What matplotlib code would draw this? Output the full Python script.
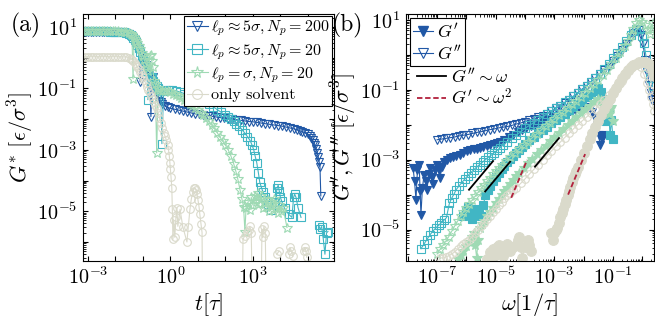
import numpy as np
import matplotlib
matplotlib.use('Agg')
import matplotlib.pyplot as plt
from matplotlib.lines import Line2D
from matplotlib.ticker import NullLocator, LogLocator

plt.rcParams['font.family'] = 'serif'
plt.rcParams['font.serif'] = ['cmr10', 'DejaVu Serif']
plt.rcParams['mathtext.fontset'] = 'cm'
plt.rcParams['axes.unicode_minus'] = False

C_BLUE = '#2158a6'
C_TEAL = '#41b6c4'
C_GREEN = '#9fdab4'
C_BEIGE = '#dadacb'
C_RED = '#b2203c'
nan = np.nan

# ---------------- panel (a): G*(t), log10 values ----------------
logt_np200 = [-3.2, -3.1, -3.0, -2.9, -2.8, -2.7, -2.6, -2.5, -2.4, -2.3, -2.2, -2.1, -2.0, -1.9, -1.8, -1.7,
              -1.6, -1.5, -1.45, -1.4, -1.35, -1.3, -1.25, -1.2, -1.15, -1.1, -1.05, -1.0, -0.95, -0.9, -0.85,
              -0.8, -0.75, -0.71, -0.67, -0.64, -0.6, -0.55, -0.5, -0.45, -0.4, -0.35, -0.3, -0.2, -0.1, 0.0,
              0.15, 0.3, 0.45, 0.6, 0.75, 0.9, 1.05, 1.2, 1.35, 1.5, 1.65, 1.8, 1.95, 2.1, 2.25, 2.4, 2.55,
              2.7, 2.85, 3.0, 3.15, 3.3, 3.45, 3.6, 3.75, 3.9, 4.05, 4.2, 4.35, 4.5, 4.6, 4.7, 4.8, 4.9, 5.0,
              5.07, 5.12, 5.17, 5.22, 5.26, 5.3, 5.34, 5.38, 5.41, 5.44, 5.47]
logG_np200 = [0.845, 0.845, 0.845, 0.845, 0.845, 0.845, 0.845, 0.844, 0.843, 0.84, 0.84, 0.838, 0.835, 0.83, 0.82, 0.81,
              0.8, 0.76, 0.72, 0.68, 0.63, 0.57, 0.5, 0.4, 0.3, -0.79, 0.1, 0.0, -0.1, -0.25, -0.4,
              -0.55, -0.7, -1.92, -0.85, -0.62, -1.0, -1.1, -1.2, -1.3, -1.4, -1.45, -1.52, -1.58, -1.62, -1.65,
              -1.68, -1.71, -1.74, -1.77, -1.8, -1.83, -1.85, -1.87, -1.89, -1.91, -1.93, -1.95, -1.97, -1.99, -2.0, -2.02, -2.04,
              -2.06, -2.08, -2.09, -2.11, -2.13, -2.15, -2.17, -2.19, -2.21, -2.23, -2.26, -2.29, -2.32, -2.35, -2.38, -2.41, -2.45, -2.5,
              -2.55, -2.6, -2.68, -2.77, -2.86, -2.97, -3.1, -3.25, -3.4, -3.55, -4.5]

logt_np20 = [-3.2, -3.1, -3.0, -2.9, -2.8, -2.7, -2.6, -2.5, -2.4, -2.3, -2.2, -2.1, -2.0, -1.9, -1.8, -1.7,
             -1.6, -1.5, -1.45, -1.4, -1.35, -1.3, -1.25, -1.2, -1.15, -1.1, -1.05, -1.0, -0.95, -0.9, -0.85,
             -0.82, -0.78, -0.72, -0.67, -0.62, -0.55, -0.5, -0.45, -0.4, -0.35, -0.31, -0.25, -0.15, -0.05, 0.05,
             0.2, 0.35, 0.5, 0.65, 0.8, 0.95, 1.1, 1.25, 1.4, 1.55, 1.7, 1.85, 2.0, 2.1, 2.2, 2.3, 2.4,
             2.5, 2.6, 2.7, 2.8, 2.9, 2.97, 3.03, 3.08, 3.14, 3.2, 3.25, 3.3, 3.36, 3.45, 3.55, 3.65, 3.8,
             3.88, 3.92, 3.96, 4.0, 4.05, 4.15, 4.3, 4.42, 4.48, 4.52, 4.57, 4.64, 4.75, 4.85,
             5.4, 5.44, 5.5, 5.56, 5.62, 5.68, 5.73]
logG_np20 = [0.855, 0.855, 0.855, 0.855, 0.855, 0.855, 0.855, 0.855, 0.853, 0.852, 0.85, 0.848, 0.845, 0.84, 0.83, 0.82,
             0.81, 0.77, 0.73, 0.69, 0.64, 0.58, 0.5, 0.4, 0.3, 0.18, 0.05, -0.05, -0.15, -0.3, -0.45,
             -1.37, -0.55, -0.65, -0.62, -0.75, -0.85, -0.93, -1.0, -1.05, -1.1, -2.8, -1.1, -1.07, -1.05, -1.05,
             -1.08, -1.12, -1.17, -1.22, -1.27, -1.32, -1.38, -1.45, -1.52, -1.6, -1.69, -1.78, -1.87, -1.94, -2.0, -2.07, -2.15,
             -2.24, -2.34, -2.45, -2.57, -2.7, -2.85, -3.0, -3.2, -3.42, -3.75, -4.06, -4.2, -4.36, -4.55, -4.75, -4.95, -4.7,
             -4.25, -4.15, -4.35, -4.55, -4.68, -4.9, -5.1, -5.2, -4.55, -4.45, -4.55, -4.88, -5.2, nan,
             -5.45, -5.59, -5.5, -5.9, -6.4, -5.7, -5.66]

logt_flex = [-3.2, -3.1, -3.0, -2.9, -2.8, -2.7, -2.6, -2.5, -2.4, -2.3, -2.2, -2.1, -2.0, -1.9, -1.8, -1.7,
             -1.6, -1.5, -1.45, -1.4, -1.36, -1.32, -1.28, -1.24, -1.2, -1.15, -1.1, -1.05, -1.0, -0.95, -0.9,
             -0.85, -0.8, -0.76, -0.72, -0.68, -0.64, -0.6, -0.55, -0.5, -0.45, -0.4, -0.3, -0.2, -0.1, 0.0,
             0.1, 0.2, 0.3, 0.4, 0.5, 0.6, 0.7, 0.8, 0.9, 1.0, 1.1, 1.2, 1.3, 1.4, 1.5, 1.6, 1.7,
             1.8, 1.9, 2.0, 2.1, 2.2, 2.3, 2.38, 2.45, 2.53, 2.6, 2.66, 2.71, 2.75, 2.82, 2.88, 2.94, 3.0,
             3.06, 3.12, 3.18, 3.24, 3.3, 3.36, 3.42, 3.48, 3.54, 3.6, 3.66, 3.72, 3.78, 3.84, 3.9, 3.96,
             4.02, 4.1, 4.24]
logG_flex = [0.87, 0.87, 0.87, 0.87, 0.87, 0.87, 0.87, 0.87, 0.868, 0.866, 0.864, 0.862, 0.86, 0.855, 0.85, 0.845,
             0.84, 0.81, 0.78, 0.74, -0.69, 0.66, 0.6, 0.54, 0.47, 0.38, 0.28, 0.16, 0.04, -0.08, -0.2,
             -0.33, -0.45, 0.05, 0.1, -0.1, -0.3, -0.75, -0.85, -3.1, -1.0, -1.05, -1.08, -1.09, -1.1, -1.13,
             -1.17, -1.21, -1.26, -1.31, -1.37, -1.43, -1.5, -1.57, -1.64, -1.72, -1.8, -1.88, -1.97, -2.07, -2.18, -2.3, -2.44,
             -2.58, -2.72, -2.85, -3.0, -3.2, -3.45, -3.7, -3.95, -4.3, -4.6, -4.85, -5.66, -4.9, -4.7, -4.95, -4.55, -4.8,
             -4.5, -4.7, -4.4, -4.75, -4.5, -4.9, -4.6, -4.85, -4.65, -5.0, -4.7, -4.95, -4.6, -4.9, -5.05, -4.8,
             -5.0, -4.9, -5.53]

logt_solv = [-3.2, -3.1, -3.0, -2.9, -2.8, -2.7, -2.6, -2.5, -2.4, -2.3, -2.2, -2.1, -2.0, -1.9, -1.8, -1.7,
             -1.6, -1.5, -1.45, -1.4, -1.35, -1.3, -1.25, -1.2, -1.15, -1.1, -1.05, -1.0, -0.95, -0.9, -0.85,
             -0.8, -0.75, -0.7, -0.65, -0.6, -0.55, -0.5, -0.45, -0.4, -0.35, -0.3, -0.25, -0.2, -0.15, -0.1,
             -0.07, -0.04, -0.02, 0.0, 0.02, 0.05, 0.07, 0.09, 0.12, 0.16, 0.2, 0.23, 0.27, 0.35, 0.45, 0.6,
             0.65, 0.71, 0.76, 0.82, 0.86, 0.89, 0.93, 0.97, 1.0, 1.04, 1.07, 1.11, 1.15, 1.18, nan,
             2.6, 2.64, 2.7, 2.78, 2.84, 2.89, 2.94, 3.0, nan, 3.28, 3.33, 3.36, 3.4, 3.45, 3.5, nan,
             3.87, 3.95, nan, 4.3, 4.35, 4.4, 4.45, nan, 4.85, 4.89, 4.93, 4.96]
logG_solv = [0.03, 0.03, 0.03, 0.03, 0.03, 0.03, 0.03, 0.03, 0.03, 0.03, 0.03, 0.03, 0.03, 0.03, 0.028, 0.025,
             0.02, 0.0, -0.03, -0.07, -0.11, -0.17, -0.23, -0.3, -0.38, -0.46, -0.55, -0.64, -0.74, -0.84, -0.94,
             -1.04, -1.14, -1.24, -1.34, -1.43, -1.53, -1.65, -1.8, -1.95, -2.12, -2.3, -2.44, -2.55, -2.68, -2.85,
             -3.0, -3.2, -3.42, -3.64, -3.87, -4.23, -4.94, -5.92, -5.3, -5.85, -5.2, -4.88, -5.49, -4.94, -5.5, -6.0,
             -5.5, -4.94, -4.6, -4.36, -4.25, -4.23, -4.3, -4.45, -4.62, -4.85, -5.1, -5.4, -5.69, -9.0, nan,
             -9.0, -5.92, -5.8, -5.69, -5.6, -5.49, -5.7, -9.0, nan, -9.0, -5.59, -5.85, -5.49, -5.7, -9.0, nan,
             -6.4, -6.3, nan, -6.4, -6.18, -6.3, -6.47, nan, -6.3, -6.18, -6.3, -6.5]

labels_a = [r'$\ell_p \approx 5\sigma, N_p = 200$', r'$\ell_p \approx 5\sigma, N_p = 20$',
            r'$\ell_p = \sigma, N_p = 20$', 'only solvent']

# ---------------- panel (b): G'(w) filled, G''(w) open, log10 values ----------------
logw_b_G2 = [-7.0, -6.85, -6.7, -6.55, -6.4, -6.25, -6.1, -5.95, -5.8, -5.65, -5.5, -5.35, -5.2, -5.05, -4.9,
             -4.75, -4.6, -4.45, -4.3, -4.15, -4.0, -3.85, -3.7, -3.55, -3.4, -3.25, -3.1, -2.95, -2.8, -2.65,
             -2.5, -2.35, -2.2, -2.05, -1.9, -1.75, -1.6, -1.45, -1.3, -1.15, -1.0, -0.85, -0.7, -0.55, -0.4,
             -0.3, -0.2, -0.1, -0.04, 0.03, 0.1, 0.17, 0.24, 0.3, 0.34]
logG_b_G2 = [-2.43, -2.41, -2.39, -2.37, -2.35, -2.32, -2.3, -2.28, -2.25, -2.22, -2.2, -2.17, -2.14, -2.12, -2.09,
             -2.07, -2.05, -2.02, -1.98, -1.95, -1.91, -1.87, -1.83, -1.79, -1.74, -1.68, -1.61, -1.53, -1.45, -1.37,
             -1.28, -1.19, -1.09, -0.98, -0.88, -0.77, -0.66, -0.55, -0.44, -0.31, -0.17, -0.03, 0.13, 0.3, 0.5,
             0.62, 0.71, 0.7, 0.57, 0.3, -0.14, -0.5, -0.86, -1.1, -1.29]
logw_b_G1 = [-7.82, -7.77, -7.72, -7.67, -7.61, -7.58, -7.55, -7.5, -7.44, -7.39, -7.34, -7.29, -7.24, -7.19, -7.14,
             -7.07, -7.0, -6.95, -6.9, -6.83, -6.76, -6.66, -6.56, -6.45, -6.34, -6.22, -6.1, -5.98, -5.87, -5.75,
             -5.64, -5.53, -5.42, -5.3, -5.19, -5.07, -4.95, -4.85, -4.7, -4.55, -4.4, -4.25, -4.1, -3.95, -3.8,
             -3.65, -3.5, -3.35, -3.2, -3.05, -2.9, -2.75, -2.6, -2.45, -2.3, -2.15, -2.0, -1.9, -1.8, -1.71,
             -1.62, -1.54, -1.49, -1.44, -1.38, -1.33]
logG_b_G1 = [-3.23, -3.6, -4.14, -3.3, -3.14, -3.9, -4.57, -3.8, -3.43, -3.6, -3.86, -3.4, -3.23, -3.5, -3.71,
             -3.3, -3.14, -3.3, -3.51, -3.2, -3.06, -3.0, -2.94, -2.92, -2.89, -2.86, -2.81, -2.76, -2.71, -2.7,
             -2.68, -2.66, -2.63, -2.6, -2.57, -2.54, -2.51, -2.49, -2.43, -2.36, -2.29, -2.22, -2.16, -2.1, -2.05,
             -2.0, -1.95, -1.9, -1.86, -1.8, -1.75, -1.7, -1.65, -1.61, -1.57, -1.54, -1.51, -1.5, -1.53, -1.63,
             -1.8, -2.0, -2.3, -2.57, -2.4, -2.29]

logw_t_G2 = [-7.55, -7.45, -7.35, -7.25, -7.15, -7.05, -6.95, -6.85, -6.75, -6.68, -6.63, -6.58, -6.5, -6.42, -6.35,
             -6.25, -6.15, -6.05, -5.95, -5.85, -5.75, -5.65, -5.55, -5.45, -5.35, -5.25, -5.15, -5.05, -4.95, -4.85,
             -4.75, -4.6, -4.45, -4.3, -4.15, -4.0, -3.85, -3.7, -3.55, -3.4, -3.25, -3.1, -2.95, -2.8, -2.65,
             -2.5, -2.35, -2.2, -2.05, -1.9, -1.75, -1.6, -1.45, -1.3, -1.15, -1.0, -0.85, -0.7, -0.55, -0.4,
             -0.3, -0.2, -0.1, 0.0, 0.05, 0.12, 0.2, 0.28, 0.35]
logG_t_G2 = [-5.55, -5.42, -5.29, -5.16, -5.05, -4.96, -4.88, -4.8, -4.72, -4.66, -4.45, -4.25, -4.1, -3.98, -3.86,
             -3.75, -3.65, -3.55, -3.46, -3.37, -3.29, -3.21, -3.14, -3.07, -3.0, -2.93, -2.87, -2.8, -2.73, -2.66,
             -2.58, -2.48, -2.39, -2.3, -2.2, -2.1, -2.02, -1.94, -1.86, -1.77, -1.69, -1.61, -1.53, -1.45, -1.36,
             -1.28, -1.19, -1.09, -0.99, -0.88, -0.77, -0.66, -0.54, -0.4, -0.25, -0.1, 0.05, 0.22, 0.4, 0.58,
             0.68, 0.74, 0.75, 0.55, 0.35, 0.0, -0.35, -0.65, -0.9]
logw_t_G1 = [-6.1, -6.03, -5.95, -5.88, -5.8, -5.72, -5.65, -5.58, -5.5, -5.42, -5.35, -5.27, -5.2, -5.1, -5.0,
             -4.9, -4.8, -4.7, -4.6, -4.5, -4.4, -4.3, -4.2, -4.1, -4.0, -3.85, -3.7, -3.55, -3.4, -3.25,
             -3.1, -2.95, -2.8, -2.65, -2.5, -2.35, -2.2, -2.05, -1.9, -1.75, -1.6, -1.5, -1.42, -1.35, -1.3,
             -1.25, -1.2, -1.15, -1.1, -1.05, -1.0]
logG_t_G1 = [-4.6, -4.45, -4.35, -4.55, -4.7, -4.5, -4.4, -4.55, -4.6, -4.3, -4.0, -3.88, -3.75, -3.62, -3.5,
             -3.39, -3.28, -3.18, -3.08, -2.99, -2.9, -2.81, -2.72, -2.64, -2.55, -2.45, -2.35, -2.25, -2.15, -2.06,
             -1.96, -1.87, -1.78, -1.68, -1.59, -1.5, -1.4, -1.31, -1.21, -1.12, -1.02, -0.95, -1.05, -1.25, -1.6,
             -1.9, -1.7, -1.55, -2.3, -1.85, -2.4]

logw_g_G2 = [-7.0, -6.9, -6.8, -6.7, -6.6, -6.5, -6.4, -6.3, -6.2, -6.1, -6.0, -5.9, -5.8, -5.7, -5.6,
             -5.5, -5.4, -5.3, -5.2, -5.1, -5.0, -4.9, -4.8, -4.65, -4.5, -4.35, -4.2, -4.05, -3.9, -3.75,
             -3.6, -3.45, -3.3, -3.15, -3.0, -2.85, -2.7, -2.55, -2.4, -2.25, -2.1, -1.95, -1.8, -1.65, -1.5,
             -1.35, -1.2, -1.05, -0.9, -0.75, -0.6, -0.5, -0.4, -0.3, -0.2, -0.1, 0.0, 0.1, 0.18, 0.25,
             0.3, 0.35]
logG_g_G2 = [-5.7, -5.57, -5.45, -5.33, -5.2, -5.05, -4.9, -4.76, -4.62, -4.5, -4.38, -4.26, -4.15, -4.04, -3.93,
             -3.82, -3.72, -3.62, -3.52, -3.42, -3.33, -3.24, -3.15, -3.03, -2.92, -2.81, -2.7, -2.59, -2.48, -2.37,
             -2.26, -2.15, -2.05, -1.94, -1.84, -1.73, -1.63, -1.52, -1.42, -1.31, -1.2, -1.08, -0.96, -0.84, -0.71,
             -0.57, -0.42, -0.26, -0.1, 0.07, 0.25, 0.4, 0.58, 0.75, 0.9, 1.0, 0.95, 0.85, 0.7, 0.6,
             0.75, 0.9]
logw_g_G1 = [-6.3, -6.2, -6.1, -6.0, -5.9, -5.82, -5.75, -5.7, -5.65, -5.6, -5.55, -5.48, -5.4, -5.3, -5.2,
             -5.1, -5.0, -4.9, -4.8, -4.7, -4.6, -4.5, -4.4, -4.3, -4.2, -4.05, -3.9, -3.75, -3.6, -3.45,
             -3.3, -3.15, -3.0, -2.85, -2.7, -2.55, -2.4, -2.25, -2.1, -1.95, -1.8, -1.65, -1.5, -1.42, -1.35,
             -1.3, -1.25, -1.2, -1.15, -1.1, -1.05, -1.0]
logG_g_G1 = [-5.85, -5.72, -5.6, -5.47, -5.35, -5.2, -5.1, -5.45, -5.8, -5.3, -4.95, -4.85, -4.75, -4.62, -4.5,
             -4.37, -4.25, -4.12, -4.0, -3.9, -3.8, -3.69, -3.58, -3.48, -3.38, -3.24, -3.1, -2.97, -2.85, -2.72,
             -2.6, -2.47, -2.35, -2.24, -2.13, -2.01, -1.9, -1.79, -1.67, -1.56, -1.45, -1.35, -1.25, -1.3, -1.45,
             -1.6, -1.3, -1.5, -1.7, -1.55, -1.5, -1.9]

logw_s_G2 = [-6.9, -6.8, -6.7, -6.6, -6.5, -6.4, -6.3, -6.2, -6.1, -6.0, -5.9, -5.8, -5.7, -5.6, -5.5,
             -5.4, -5.3, -5.2, -5.1, -5.0, -4.9, -4.8, -4.7, -4.6, -4.5, -4.4, -4.3, -4.15, -4.0, -3.85,
             -3.7, -3.55, -3.4, -3.25, -3.1, -2.95, -2.8, -2.65, -2.5, -2.35, -2.2, -2.05, -1.9, -1.75, -1.6,
             -1.45, -1.3, -1.15, -1.0, -0.85, -0.7, -0.55, -0.45, -0.35, -0.25, -0.15, -0.05, 0.05, 0.15, 0.22,
             0.3, 0.35, 0.4]
logG_s_G2 = [-5.8, -5.82, -5.78, -5.75, -5.7, -5.64, -5.56, -5.48, -5.4, -5.35, -5.3, -5.2, -5.1, -5.0, -4.9,
             -4.8, -4.7, -4.6, -4.5, -4.4, -4.3, -4.2, -4.1, -4.02, -3.95, -3.88, -3.8, -3.68, -3.55, -3.41,
             -3.28, -3.14, -3.0, -2.88, -2.75, -2.62, -2.5, -2.37, -2.25, -2.12, -2.0, -1.89, -1.78, -1.66, -1.55,
             -1.42, -1.3, -1.16, -1.03, -0.89, -0.75, -0.58, -0.45, -0.32, -0.25, -0.25, -0.35, -0.55, -0.8, -1.0,
             -1.2, -1.4, -1.6]
logw_s_G1 = [-5.3, -5.2, -5.1, -5.05, -5.0, -4.95, -4.9, -4.82, -4.75, -4.68, -4.6, -4.55, -4.5, -4.4, -4.3,
             -4.25, -4.2, -4.15, -4.1, -4.0, -3.9, -3.85, -3.8, nan, -3.1, -3.05, -3.0, -2.95, -2.9, -2.85,
             -2.8, -2.75, -2.7, -2.65, -2.6, -2.55, -2.5, -2.45, -2.4, -2.35, -2.3, -2.25, -2.2, -2.1, -2.0,
             -1.9, -1.8, -1.7, -1.6, -1.5, -1.4, -1.3, -1.2, -1.1, -1.0, -0.9, -0.8, -0.7, -0.6, -0.5,
             -0.4, -0.3, -0.2, -0.1, 0.0, 0.08, 0.15, 0.22, 0.3, 0.35, 0.4]
logG_s_G1 = [-5.85, -5.65, -5.57, -5.75, -5.7, -5.5, -5.45, -5.6, -5.75, -5.5, -5.4, -5.55, -5.6, -5.5, -5.45,
             -5.3, -5.2, -5.5, -5.8, -5.5, -5.3, -5.45, -5.6, nan, -5.1, -5.3, -5.1, -5.0, -4.95, -4.8,
             -4.65, -4.52, -4.4, -4.27, -4.15, -4.02, -3.9, -3.77, -3.65, -3.53, -3.42, -3.31, -3.2, -3.0, -2.8,
             -2.61, -2.42, -2.24, -2.07, -1.9, -1.72, -1.56, -1.4, -1.25, -1.1, -0.95, -0.8, -0.67, -0.55, -0.44,
             -0.35, -0.29, -0.25, -0.21, -0.2, -0.2, -0.22, -0.27, -0.35, -0.45, -0.6]

# power-law guides: (log10 w start, log10 w end, log10 prefactor)
fit_w1 = [(-5.91, -5.09, 2.05), (-5.36, -4.51, 1.45), (-3.66, -2.84, 0.46)]
fit_w2 = [(-4.47, -3.93, 4.85), (-2.53, -1.95, 1.06)]

fig = plt.figure(figsize=(6.55, 3.24), dpi=100)
ax1 = fig.add_axes([83/655, 1-261/324, (334-83)/655, (261-14)/324])
ax2 = fig.add_axes([406/655, 1-261/324, (654-406)/655, (261-14)/324])

ms = 5.5
mew = 0.8
lw = 0.8

def p(v):
    return 10.0 ** np.asarray(v, dtype=float)

series_a = [(logt_np200, logG_np200, C_BLUE, 'v'), (logt_np20, logG_np20, C_TEAL, 's'),
            (logt_flex, logG_flex, C_GREEN, '*'), (logt_solv, logG_solv, C_BEIGE, 'o')]
handles = []
for (lt, lg, c, m), lab in zip(series_a, labels_a):
    msz = ms + 1.5 if m == '*' else ms
    h, = ax1.plot(p(lt), p(lg), color=c, marker=m, ms=msz, mfc='none', mec=c, mew=mew, lw=lw, label=lab)
    handles.append(h)

ax1.set_xscale('log')
ax1.set_yscale('log')
ax1.set_xlim(10**-3.18, 10**5.95)
ax1.set_ylim(10**-6.62, 10**1.42)
ax1.set_xticks([10.0**k for k in range(-3, 6)])
ax1.set_xticklabels([r'$10^{%d}$' % k if k in (-3, 0, 3) else '' for k in range(-3, 6)])
ax1.xaxis.set_minor_locator(NullLocator())
ax1.set_yticks([10.0**k for k in range(-6, 2)])
ax1.set_yticklabels([r'$10^{%d}$' % k if k in (1, -1, -3, -5) else '' for k in range(-6, 2)])
ax1.yaxis.set_minor_locator(LogLocator(base=10, subs=np.arange(2, 10), numticks=20))
ax1.set_xlabel(r'$t[\tau]$', fontsize=16, labelpad=2)
ax1.set_ylabel(r'$G^{*}\ [\epsilon/\sigma^3]$', fontsize=16, labelpad=1)

hl = [Line2D([], [], color=h.get_color(), marker=h.get_marker(), ms=h.get_markersize() + 1.5, mfc='none',
             mec=h.get_color(), mew=mew, lw=lw) for h in handles]
leg = ax1.legend(hl, labels_a, loc='upper right', fontsize=11.5, frameon=True, fancybox=False,
                 edgecolor='black', framealpha=1, borderaxespad=0.1, handlelength=1.3, handletextpad=0.2,
                 borderpad=0.2, labelspacing=0.22)
leg.get_frame().set_linewidth(0.8)

# panel (b)
series_b = [(logw_b_G1, logG_b_G1, C_BLUE, 'v', True), (logw_b_G2, logG_b_G2, C_BLUE, 'v', False),
            (logw_t_G2, logG_t_G2, C_TEAL, 's', False), (logw_t_G1, logG_t_G1, C_TEAL, 's', True),
            (logw_g_G2, logG_g_G2, C_GREEN, '*', False), (logw_g_G1, logG_g_G1, C_GREEN, '*', True),
            (logw_s_G2, logG_s_G2, C_BEIGE, 'o', False), (logw_s_G1, logG_s_G1, C_BEIGE, 'o', True)]
for xw, yg, c, m, filled in series_b:
    msz = ms + 1.5 if m == '*' else ms
    if m == 'o' and filled:
        msz = ms + 1.5
    ax2.plot(p(xw), p(yg), color=c, marker=m, ms=msz, mfc=c if filled else 'none', mec=c, mew=mew, lw=lw)

for a, b, k in fit_w1:
    w = p([a, b])
    ax2.plot(w, 10**k * w, color='black', lw=1.3)
for a, b, k in fit_w2:
    w = p([a, b])
    ax2.plot(w, 10**k * w**2, color=C_RED, lw=1.3, dashes=(3, 1.5))

ax2.set_xscale('log')
ax2.set_yscale('log')
ax2.set_xlim(10**-8.06, 10**0.4)
ax2.set_ylim(10**-5.9, 10**1.17)
ax2.set_xticks([10.0**k for k in range(-8, 1)])
ax2.set_xticklabels([r'$10^{%d}$' % k if k in (-7, -5, -3, -1) else '' for k in range(-8, 1)])
ax2.xaxis.set_minor_locator(LogLocator(base=10, subs=np.arange(2, 10), numticks=20))
ax2.set_yticks([10.0**k for k in range(-5, 2)])
ax2.set_yticklabels([r'$10^{%d}$' % k if k in (1, -1, -3, -5) else '' for k in range(-5, 2)])
ax2.yaxis.set_minor_locator(LogLocator(base=10, subs=np.arange(2, 10), numticks=20))
ax2.set_xlabel(r'$\omega[1/\tau]$', fontsize=16, labelpad=2)
ax2.set_ylabel(r"$G', G''\ [\epsilon/\sigma^3]$", fontsize=16, labelpad=1)

hb1 = Line2D([], [], color=C_BLUE, marker='v', ms=ms + 1.5, mfc=C_BLUE, mec=C_BLUE, lw=lw)
hb2 = Line2D([], [], color=C_BLUE, marker='v', ms=ms + 1.5, mfc='none', mec=C_BLUE, mew=mew, lw=lw)
legb = ax2.legend([hb1, hb2], [r"$G'$", r"$G''$"], loc='upper left', fontsize=13, frameon=True,
                  fancybox=False, edgecolor='black', framealpha=1, borderaxespad=0.2, handlelength=1.1,
                  handletextpad=0.2, borderpad=0.2, labelspacing=0.2)
legb.get_frame().set_linewidth(0.8)
ax2.add_artist(legb)
hf1 = Line2D([], [], color='black', lw=1.3)
hf2 = Line2D([], [], color=C_RED, lw=1.3, dashes=(3, 1.5))
ax2.legend([hf1, hf2], [r"$G'' \sim \omega$", r"$G' \sim \omega^2$"], loc='upper left',
           bbox_to_anchor=(0.0, 0.83), fontsize=13, frameon=False, handlelength=1.6,
           handletextpad=0.3, borderaxespad=0.2, labelspacing=0.05)

for ax in (ax1, ax2):
    ax.tick_params(which='both', direction='in', top=True, right=True, labelsize=14.5)
    ax.tick_params(which='major', length=3.5, width=0.8, pad=4)
    ax.tick_params(which='minor', length=1.8, width=0.6)
    for s in ax.spines.values():
        s.set_linewidth(0.8)

fig.text(11/655, 1-25/324, '(a)', fontsize=17, va='center', ha='left')
fig.text(332/655, 1-25/324, '(b)', fontsize=17, va='center', ha='left')

fig.savefig('out.png', dpi=100)
